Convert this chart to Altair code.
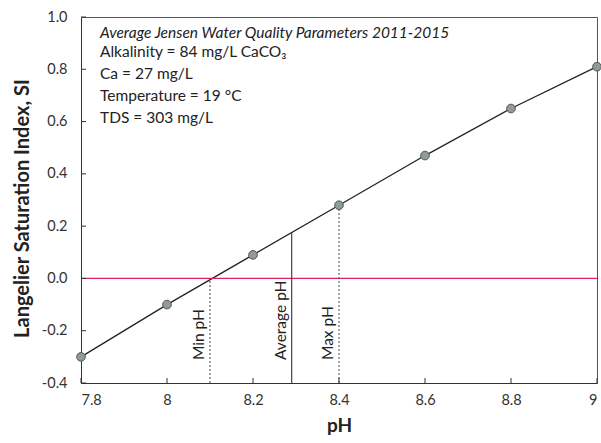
import altair as alt
import pandas as pd

# Langelier Saturation Index vs pH
ph = [7.8, 8.0, 8.2, 8.4, 8.6, 8.8, 9.0]
si = [-0.30, -0.10, 0.09, 0.28, 0.47, 0.65, 0.81]

# Reference pH markers (label, pH, SI at top of marker line, dashed?)
marker_labels = ["Min pH", "Average pH", "Max pH"]
marker_ph = [8.10, 8.29, 8.40]
marker_top = [0.0, 0.175, 0.28]
marker_dash = [True, False, True]

x_ticks = [7.8, 8.0, 8.2, 8.4, 8.6, 8.8, 9.0]
y_ticks = [-0.4, -0.2, 0.0, 0.2, 0.4, 0.6, 0.8, 1.0]

heading = "Average Jensen Water Quality Parameters 2011-2015"
notes = [
    "Alkalinity = 84 mg/L CaCO\u2083",
    "Ca = 27 mg/L",
    "Temperature = 19 \u00b0C",
    "TDS = 303 mg/L",
]

FONT = "Lato"
W, H = 516, 366

df = pd.DataFrame({"ph": ph, "si": si})
mk = pd.DataFrame({"label": marker_labels, "ph": marker_ph, "top": marker_top,
                   "dash": marker_dash, "bottom": [-0.4] * 3})

xscale = alt.Scale(domain=[7.8, 9.0], nice=False, zero=False)
yscale = alt.Scale(domain=[-0.4, 1.0], nice=False, zero=False)

xaxis = alt.Axis(values=x_ticks, labelExpr="format(datum.value, '.2~f')", title="pH",
                 titleFont=FONT, titleFontSize=19, titleFontWeight="bold", titleColor="#222",
                 labelFont=FONT, labelFontSize=14.5, labelColor="#333", labelPadding=10,
                 ticks=False, grid=False, domainColor="#333", titlePadding=10)
yaxis = alt.Axis(values=y_ticks,
                 labelExpr="(datum.value < 0 ? '-' : '') + format(abs(datum.value), '.1f')",
                 title="Langelier Saturation Index, SI",
                 titleFont=FONT, titleFontSize=20, titleFontWeight="bold", titleColor="#222",
                 titleY=191,
                 labelFont=FONT, labelFontSize=14.5, labelColor="#333", labelPadding=14,
                 ticks=False, grid=False, domainColor="#333", titlePadding=9)

line = alt.Chart(df).mark_line(color="#222", strokeWidth=1.3).encode(
    x=alt.X("ph:Q", scale=xscale, axis=xaxis),
    y=alt.Y("si:Q", scale=yscale, axis=yaxis))
pts = alt.Chart(df).mark_circle(size=75, color="#8f9c97", opacity=1,
                                stroke="#555", strokeWidth=1).encode(
    x="ph:Q", y="si:Q")

zero = alt.Chart(pd.DataFrame({"si": [0.0]})).mark_rule(color="#e0245a", strokeWidth=1.3).encode(
    y="si:Q")

dashed = alt.Chart(mk[mk["dash"]]).mark_rule(color="#444", strokeWidth=1, strokeDash=[2, 2]).encode(
    x="ph:Q", y="bottom:Q", y2="top:Q")
solid = alt.Chart(mk[~mk["dash"]]).mark_rule(color="#333", strokeWidth=1.1).encode(
    x="ph:Q", y="bottom:Q", y2="top:Q")

marker_text = alt.Chart(mk).mark_text(angle=270, font=FONT, fontSize=15.5, color="#222",
                                      align="left", baseline="bottom", dy=-3).encode(
    x="ph:Q", y=alt.value(H - 23), text="label:N")

# Inward tick marks along the bottom and left axes
xt = alt.Chart(pd.DataFrame({"ph": x_ticks})).mark_rule(color="#333").encode(
    x="ph:Q", y=alt.value(H), y2=alt.value(H - 5))
yt = alt.Chart(pd.DataFrame({"si": y_ticks})).mark_rule(color="#333").encode(
    y="si:Q", x=alt.value(0), x2=alt.value(5))

head_text = alt.Chart(pd.DataFrame({"text": [heading]})).mark_text(
    font=FONT, fontSize=15.5, fontStyle="italic", color="#222", align="left",
    baseline="middle").encode(x=alt.value(19), y=alt.value(16), text="text:N")

note_text = alt.Chart(pd.DataFrame({"text": [notes]})).mark_text(
    font=FONT, fontSize=15.5, color="#222", align="left", baseline="top",
    lineHeight=22).encode(x=alt.value(19), y=alt.value(28), text="text:N")

chart = alt.layer(line, zero, dashed, solid, marker_text, pts, xt, yt, head_text,
                  note_text).properties(
    width=W, height=H,
    autosize=alt.AutoSizeParams(type="none"),
    padding={"left": 81, "top": 17, "right": 4, "bottom": 60},
    background="white",
).configure_view(stroke="#555", strokeWidth=1)

chart.save("out.html", embed_options={"renderer": "svg", "actions": False})
